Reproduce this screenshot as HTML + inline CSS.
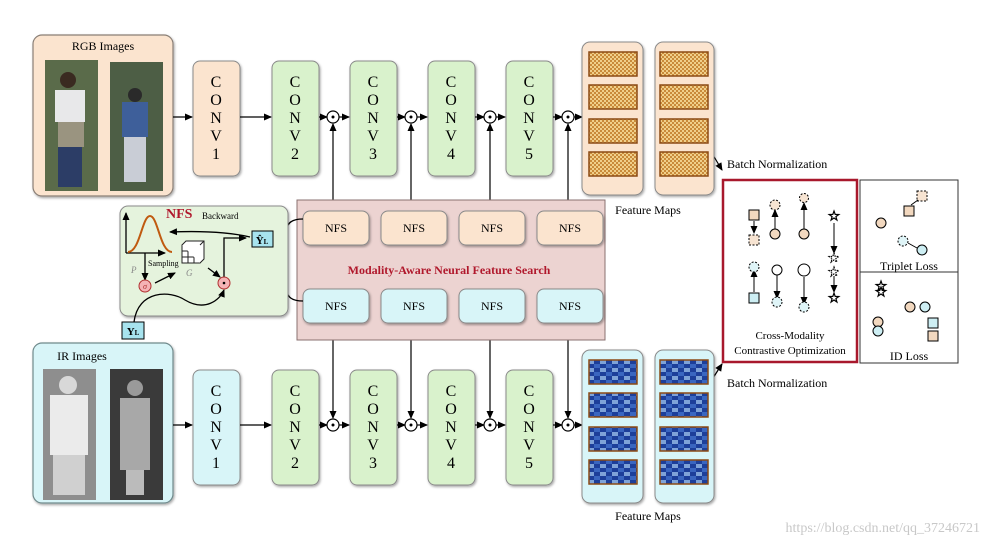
<!DOCTYPE html>
<html><head><meta charset="utf-8"><style>
html,body{margin:0;padding:0;background:#fff}
svg{display:block}
text{font-family:"Liberation Serif",serif}
</style></head><body>
<svg width="989" height="547" viewBox="0 0 989 547" xmlns="http://www.w3.org/2000/svg">
<defs>
<marker id="a" markerWidth="8" markerHeight="8" refX="7" refY="4" orient="auto" markerUnits="userSpaceOnUse"><path d="M0,0.5 L8,4 L0,7.5z" fill="#000"/></marker>
<pattern id="pt" width="4" height="4" patternUnits="userSpaceOnUse"><rect width="4" height="4" fill="#c98a3a"/><rect width="2" height="2" fill="#f0cf8a"/><rect x="2" y="2" width="2" height="2" fill="#f0cf8a"/></pattern>
<pattern id="pb" width="12" height="8" patternUnits="userSpaceOnUse"><rect width="12" height="8" fill="#1d3f9a"/><rect width="6" height="4" fill="#7fa3d8"/><rect x="6" y="4" width="6" height="4" fill="#3a66c0"/></pattern>
<filter id="sh"><feDropShadow dx="1" dy="1.5" stdDeviation="1.2" flood-opacity="0.35"/></filter>
<path id="st" d="M0,-5 L1.2,-1.6 L4.8,-1.5 L1.9,0.6 L2.9,4 L0,2 L-2.9,4 L-1.9,0.6 L-4.8,-1.5 L-1.2,-1.6z" fill="#fff" stroke="#000" stroke-width="1.2"/>
</defs>

<!-- RGB images -->
<rect x="33" y="35" width="140" height="161" rx="9" fill="#fbe4cf" stroke="#8a7f76" stroke-width="1.2" filter="url(#sh)"/>
<text x="103" y="50" font-size="12" text-anchor="middle">RGB Images</text>
<rect x="45" y="60" width="53" height="131" fill="#5a6b4a"/>
<circle cx="68" cy="80" r="8" fill="#3a2a20"/>
<rect x="55" y="90" width="30" height="32" fill="#e8e8ea"/><rect x="58" y="122" width="26" height="25" fill="#9a9480"/><rect x="58" y="147" width="24" height="40" fill="#2c3d66"/>
<rect x="110" y="62" width="53" height="129" fill="#4d5e45"/>
<circle cx="135" cy="95" r="7" fill="#2a2a2a"/>
<rect x="122" y="102" width="26" height="35" fill="#3e5f9a"/><rect x="124" y="137" width="22" height="45" fill="#c9cdd6"/>

<!-- IR images -->
<rect x="33" y="343" width="140" height="160" rx="9" fill="#d8f5f8" stroke="#6f8a8c" stroke-width="1.2" filter="url(#sh)"/>
<text x="82" y="360" font-size="12" text-anchor="middle">IR Images</text>
<rect x="43" y="369" width="53" height="131" fill="#8e8e8e"/>
<circle cx="68" cy="385" r="9" fill="#d8d8d8"/>
<rect x="50" y="395" width="38" height="60" fill="#ebebeb"/><rect x="53" y="455" width="32" height="40" fill="#d0d0d0"/>
<rect x="110" y="369" width="53" height="131" fill="#3a3a3a"/>
<circle cx="135" cy="388" r="8" fill="#9a9a9a"/>
<rect x="120" y="398" width="30" height="72" fill="#a8a8a8"/><rect x="126" y="470" width="18" height="25" fill="#bbb"/>

<!-- CONV top -->
<g font-size="16" text-anchor="middle">
<rect x="193" y="61" width="47" height="115" rx="7" fill="#fbe4cf" stroke="#8a8a8a" filter="url(#sh)"/>
<text x="216" y="87">C</text><text x="216" y="105">O</text><text x="216" y="123">N</text><text x="216" y="141">V</text><text x="216" y="159">1</text>
<rect x="272" y="61" width="47" height="115" rx="7" fill="#d9f2cc" stroke="#8a8a8a" filter="url(#sh)"/>
<text x="295" y="87">C</text><text x="295" y="105">O</text><text x="295" y="123">N</text><text x="295" y="141">V</text><text x="295" y="159">2</text>
<rect x="350" y="61" width="47" height="115" rx="7" fill="#d9f2cc" stroke="#8a8a8a" filter="url(#sh)"/>
<text x="373" y="87">C</text><text x="373" y="105">O</text><text x="373" y="123">N</text><text x="373" y="141">V</text><text x="373" y="159">3</text>
<rect x="428" y="61" width="47" height="115" rx="7" fill="#d9f2cc" stroke="#8a8a8a" filter="url(#sh)"/>
<text x="451" y="87">C</text><text x="451" y="105">O</text><text x="451" y="123">N</text><text x="451" y="141">V</text><text x="451" y="159">4</text>
<rect x="506" y="61" width="47" height="115" rx="7" fill="#d9f2cc" stroke="#8a8a8a" filter="url(#sh)"/>
<text x="529" y="87">C</text><text x="529" y="105">O</text><text x="529" y="123">N</text><text x="529" y="141">V</text><text x="529" y="159">5</text>
</g>
<!-- CONV bottom -->
<g font-size="16" text-anchor="middle">
<rect x="193" y="370" width="47" height="115" rx="7" fill="#d8f5f8" stroke="#8a8a8a" filter="url(#sh)"/>
<text x="216" y="396">C</text><text x="216" y="414">O</text><text x="216" y="432">N</text><text x="216" y="450">V</text><text x="216" y="468">1</text>
<rect x="272" y="370" width="47" height="115" rx="7" fill="#d9f2cc" stroke="#8a8a8a" filter="url(#sh)"/>
<text x="295" y="396">C</text><text x="295" y="414">O</text><text x="295" y="432">N</text><text x="295" y="450">V</text><text x="295" y="468">2</text>
<rect x="350" y="370" width="47" height="115" rx="7" fill="#d9f2cc" stroke="#8a8a8a" filter="url(#sh)"/>
<text x="373" y="396">C</text><text x="373" y="414">O</text><text x="373" y="432">N</text><text x="373" y="450">V</text><text x="373" y="468">3</text>
<rect x="428" y="370" width="47" height="115" rx="7" fill="#d9f2cc" stroke="#8a8a8a" filter="url(#sh)"/>
<text x="451" y="396">C</text><text x="451" y="414">O</text><text x="451" y="432">N</text><text x="451" y="450">V</text><text x="451" y="468">4</text>
<rect x="506" y="370" width="47" height="115" rx="7" fill="#d9f2cc" stroke="#8a8a8a" filter="url(#sh)"/>
<text x="529" y="396">C</text><text x="529" y="414">O</text><text x="529" y="432">N</text><text x="529" y="450">V</text><text x="529" y="468">5</text>
</g>

<g stroke="#000" stroke-width="1.2" fill="none" marker-end="url(#a)">
<line x1="173" y1="117" x2="192" y2="117"/>
<line x1="240" y1="117" x2="271" y2="117"/>
<line x1="319" y1="117" x2="327" y2="117"/><line x1="339" y1="117" x2="349" y2="117"/>
<line x1="397" y1="117" x2="405" y2="117"/><line x1="417" y1="117" x2="427" y2="117"/>
<line x1="475" y1="117" x2="484" y2="117"/><line x1="496" y1="117" x2="505" y2="117"/>
<line x1="553" y1="117" x2="562" y2="117"/><line x1="574" y1="117" x2="582" y2="117"/>
<line x1="173" y1="425" x2="192" y2="425"/>
<line x1="240" y1="425" x2="271" y2="425"/>
<line x1="319" y1="425" x2="327" y2="425"/><line x1="339" y1="425" x2="349" y2="425"/>
<line x1="397" y1="425" x2="405" y2="425"/><line x1="417" y1="425" x2="427" y2="425"/>
<line x1="475" y1="425" x2="484" y2="425"/><line x1="496" y1="425" x2="505" y2="425"/>
<line x1="553" y1="425" x2="562" y2="425"/><line x1="574" y1="425" x2="582" y2="425"/>
<line x1="333" y1="211" x2="333" y2="124"/><line x1="411" y1="211" x2="411" y2="124"/>
<line x1="490" y1="211" x2="490" y2="124"/><line x1="568" y1="211" x2="568" y2="124"/>
<line x1="333" y1="323" x2="333" y2="418"/><line x1="411" y1="323" x2="411" y2="418"/>
<line x1="490" y1="323" x2="490" y2="418"/><line x1="568" y1="323" x2="568" y2="418"/>
<line x1="713" y1="155" x2="722" y2="170"/>
<line x1="713" y1="378" x2="722" y2="364"/>
</g>
<g fill="#fff" stroke="#000" stroke-width="1.2">
<circle cx="333" cy="117" r="6"/><circle cx="411" cy="117" r="6"/><circle cx="490" cy="117" r="6"/><circle cx="568" cy="117" r="6"/>
<circle cx="333" cy="425" r="6"/><circle cx="411" cy="425" r="6"/><circle cx="490" cy="425" r="6"/><circle cx="568" cy="425" r="6"/>
</g>
<g fill="#000"><circle cx="333" cy="117" r="1.5"/><circle cx="411" cy="117" r="1.5"/><circle cx="490" cy="117" r="1.5"/><circle cx="568" cy="117" r="1.5"/>
<circle cx="333" cy="425" r="1.5"/><circle cx="411" cy="425" r="1.5"/><circle cx="490" cy="425" r="1.5"/><circle cx="568" cy="425" r="1.5"/></g>

<!-- Feature maps -->
<rect x="582" y="42" width="61" height="153" rx="8" fill="#fbe4cf" stroke="#8a8a8a" filter="url(#sh)"/>
<rect x="655" y="42" width="59" height="153" rx="8" fill="#fbe4cf" stroke="#8a8a8a" filter="url(#sh)"/>
<g stroke="#8b4a14" stroke-width="1.5" fill="url(#pt)">
<rect x="589" y="52" width="48" height="24"/><rect x="589" y="85" width="48" height="24"/><rect x="589" y="119" width="48" height="24"/><rect x="589" y="152" width="48" height="24"/>
<rect x="660" y="52" width="48" height="24"/><rect x="660" y="85" width="48" height="24"/><rect x="660" y="119" width="48" height="24"/><rect x="660" y="152" width="48" height="24"/>
</g>
<rect x="582" y="350" width="61" height="153" rx="8" fill="#d8f5f8" stroke="#8a8a8a" filter="url(#sh)"/>
<rect x="655" y="350" width="59" height="153" rx="8" fill="#d8f5f8" stroke="#8a8a8a" filter="url(#sh)"/>
<g stroke="#8b4a14" stroke-width="1.5" fill="url(#pb)">
<rect x="589" y="360" width="48" height="24"/><rect x="589" y="393" width="48" height="24"/><rect x="589" y="427" width="48" height="24"/><rect x="589" y="460" width="48" height="24"/>
<rect x="660" y="360" width="48" height="24"/><rect x="660" y="393" width="48" height="24"/><rect x="660" y="427" width="48" height="24"/><rect x="660" y="460" width="48" height="24"/>
</g>
<text x="648" y="214" font-size="12" text-anchor="middle">Feature Maps</text>
<text x="648" y="520" font-size="12" text-anchor="middle">Feature Maps</text>
<text x="727" y="168" font-size="12">Batch Normalization</text>
<text x="727" y="387" font-size="12">Batch Normalization</text>

<!-- NFS big box -->
<rect x="297" y="200" width="308" height="140" fill="#ecd3d1" stroke="#8a7070"/>
<g fill="#fbe4cf" stroke="#8a8a8a">
<rect x="303" y="211" width="66" height="34" rx="7" filter="url(#sh)"/><rect x="381" y="211" width="66" height="34" rx="7" filter="url(#sh)"/>
<rect x="459" y="211" width="66" height="34" rx="7" filter="url(#sh)"/><rect x="537" y="211" width="66" height="34" rx="7" filter="url(#sh)"/>
</g>
<g fill="#d8f5f8" stroke="#8a8a8a">
<rect x="303" y="289" width="66" height="34" rx="7" filter="url(#sh)"/><rect x="381" y="289" width="66" height="34" rx="7" filter="url(#sh)"/>
<rect x="459" y="289" width="66" height="34" rx="7" filter="url(#sh)"/><rect x="537" y="289" width="66" height="34" rx="7" filter="url(#sh)"/>
</g>
<g font-size="12" text-anchor="middle">
<text x="336" y="232">NFS</text><text x="414" y="232">NFS</text><text x="492" y="232">NFS</text><text x="570" y="232">NFS</text>
<text x="336" y="310">NFS</text><text x="414" y="310">NFS</text><text x="492" y="310">NFS</text><text x="570" y="310">NFS</text>
</g>
<text x="449" y="274" font-size="12" font-weight="bold" fill="#b0182c" text-anchor="middle">Modality-Aware Neural Feature Search</text>
<path d="M303,219 Q287,219 287,230 L287,250 Q287,258 279,260 Q287,262 287,270 L287,290 Q287,301 303,301" fill="none" stroke="#000" stroke-width="1.3"/>

<!-- NFS inset -->
<rect x="120" y="206" width="168" height="110" rx="8" fill="#e5f3dd" stroke="#8a8a8a" filter="url(#sh)"/>
<text x="166" y="218" font-size="14" font-weight="bold" fill="#b0182c">NFS</text>
<text x="202" y="219" font-size="9">Backward</text>
<g stroke="#000" stroke-width="1.3" fill="none" marker-end="url(#a)">
<line x1="126" y1="253" x2="126" y2="213"/>
<line x1="126" y1="253" x2="165" y2="253"/>
<line x1="145" y1="253" x2="145" y2="280"/>
<path d="M250,237 Q220,230 170,232"/>
<line x1="155" y1="283" x2="175" y2="273"/>
<line x1="208" y1="268" x2="220" y2="277"/>
<path d="M224,278 L224,238 L246,238"/>
<path d="M134,322 C138,290 170,290 185,300 C205,312 220,300 224,290"/>
</g>
<path d="M128,252 C140,252 142,216 150,216 C158,216 160,252 172,252" fill="none" stroke="#c05a10" stroke-width="2"/>
<g stroke="#222" stroke-width="1" fill="#fff"><rect x="182" y="245" width="18" height="18"/><path d="M188,245v18M194,245v18M182,251h18M182,257h18"/><path d="M182,245 l4,-4 h18 v18 l-4,4 M200,245 l4,-4"/></g>
<text x="148" y="266" font-size="8">Sampling</text>
<text x="131" y="273" font-size="9" fill="#888" font-style="italic">P</text>
<text x="186" y="276" font-size="9" fill="#888" font-style="italic">G</text>
<circle cx="145" cy="286" r="6" fill="#f4b3b5" stroke="#b03030"/><text x="145" y="289" font-size="8" text-anchor="middle" fill="#b03030" font-style="italic">σ</text>
<circle cx="224" cy="283" r="6" fill="#f4b3b5" stroke="#b03030"/><circle cx="224" cy="283" r="1.3" fill="#000"/>
<rect x="252" y="231" width="21" height="16" fill="#a7e3ee" stroke="#000"/><text x="262" y="244" font-size="11" font-weight="bold" text-anchor="middle">Ŷ<tspan font-size="7">L</tspan></text>
<rect x="122" y="322" width="22" height="17" fill="#a7e3ee" stroke="#000"/><text x="133" y="335" font-size="11" font-weight="bold" text-anchor="middle">Y<tspan font-size="7">L</tspan></text>

<!-- Cross-modality box -->
<rect x="723" y="180" width="134" height="182" fill="#fff" stroke="#a8182c" stroke-width="2.5"/>
<text x="790" y="339" font-size="11" text-anchor="middle">Cross-Modality</text>
<text x="790" y="354" font-size="11" text-anchor="middle">Contrastive Optimization</text>
<g stroke="#000" stroke-width="1" marker-end="url(#a)" fill="none">
<line x1="754" y1="221" x2="754" y2="233"/><line x1="775" y1="230" x2="775" y2="210"/><line x1="804" y1="230" x2="804" y2="203"/><line x1="834" y1="223" x2="834" y2="253"/>
<line x1="754" y1="292" x2="754" y2="270"/><line x1="777" y1="275" x2="777" y2="298"/><line x1="804" y1="277" x2="804" y2="304"/><line x1="834" y1="276" x2="834" y2="292"/>
</g>
<g stroke="#000" stroke-width="1">
<rect x="749" y="210" width="10" height="10" fill="#f2d8bf"/>
<rect x="749" y="235" width="10" height="10" fill="#f7e4d2" stroke-dasharray="2,1.5"/>
<circle cx="775" cy="205" r="5" fill="#f7e4d2" stroke-dasharray="2,1.5"/><circle cx="775" cy="234" r="5" fill="#f2d8bf"/>
<circle cx="804" cy="198" r="4.5" fill="#f7e4d2" stroke-dasharray="2,1.5"/><circle cx="804" cy="234" r="5" fill="#f2d8bf"/>
<circle cx="754" cy="267" r="5" fill="#dff4f7" stroke-dasharray="2,1.5"/><rect x="749" y="293" width="10" height="10" fill="#cdeef3"/>
<circle cx="777" cy="270" r="5" fill="#fff"/><circle cx="777" cy="302" r="5" fill="#dff4f7" stroke-dasharray="2,1.5"/>
<circle cx="804" cy="270" r="6" fill="#fff"/><circle cx="804" cy="307" r="5" fill="#dff4f7" stroke-dasharray="2,1.5"/>
</g>
<use href="#st" x="834" y="216"/><use href="#st" x="834" y="298"/>
<use href="#st" x="834" y="258" stroke-dasharray="1.5,1"/><use href="#st" x="834" y="272" stroke-dasharray="1.5,1"/>

<!-- Triplet / ID -->
<rect x="860" y="180" width="98" height="183" fill="#fff" stroke="#333"/>
<line x1="860" y1="272" x2="958" y2="272" stroke="#333"/>
<text x="909" y="270" font-size="12" text-anchor="middle">Triplet Loss</text>
<text x="909" y="360" font-size="12" text-anchor="middle">ID Loss</text>
<g stroke="#000" stroke-width="1">
<circle cx="881" cy="223" r="5" fill="#f2d8bf"/>
<rect x="904" y="206" width="10" height="10" fill="#f2d8bf"/>
<rect x="917" y="191" width="10" height="10" fill="#f7e4d2" stroke-dasharray="2,1.5"/>
<line x1="911" y1="205" x2="918" y2="200"/>
<circle cx="903" cy="241" r="5" fill="#dff4f7" stroke-dasharray="2,1.5"/>
<circle cx="922" cy="250" r="5" fill="#cdeef3"/><line x1="917" y1="248" x2="908" y2="243"/>
<circle cx="910" cy="307" r="5" fill="#f2d8bf"/><circle cx="925" cy="307" r="5" fill="#cdeef3"/>
<rect x="928" y="318" width="10" height="10" fill="#cdeef3"/><rect x="928" y="331" width="10" height="10" fill="#f2d8bf"/>
<circle cx="878" cy="322" r="5" fill="#f2d8bf"/><circle cx="878" cy="331" r="5" fill="#cdeef3"/>
</g>
<use href="#st" x="881" y="286"/><use href="#st" x="881" y="292"/>
<text x="980" y="532" font-size="14" fill="#c8c8c8" text-anchor="end" font-family="Liberation Sans,sans-serif">https://blog.csdn.net/qq_37246721</text>
</svg>
</body></html>
